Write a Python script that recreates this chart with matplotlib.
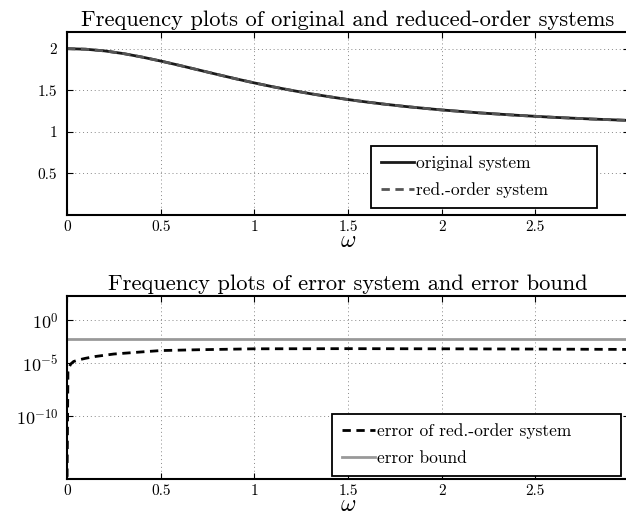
import numpy as np
import matplotlib
matplotlib.use("Agg")
import matplotlib.pyplot as plt

plt.rcParams['font.family'] = 'serif'
plt.rcParams['font.serif'] = ['cmr10', 'DejaVu Serif']
plt.rcParams['mathtext.fontset'] = 'cm'
plt.rcParams['axes.formatter.use_mathtext'] = True

# ---- data ----
omega_top = [0.0, 0.1, 0.2, 0.3, 0.4, 0.5, 0.6, 0.7, 0.8, 0.9, 1.0, 1.1, 1.2, 1.3,
             1.4, 1.5, 1.6, 1.7, 1.8, 1.9, 2.0, 2.2, 2.4, 2.6, 2.8, 3.0]
orig_mag = [2.000, 1.993, 1.973, 1.941, 1.899, 1.851, 1.799, 1.745, 1.691, 1.638,
            1.588, 1.541, 1.498, 1.458, 1.422, 1.388, 1.358, 1.331, 1.306, 1.284,
            1.263, 1.228, 1.199, 1.174, 1.154, 1.137]
red_mag = [2.000, 1.993, 1.973, 1.941, 1.899, 1.851, 1.799, 1.745, 1.691, 1.638,
           1.588, 1.541, 1.498, 1.458, 1.422, 1.388, 1.358, 1.331, 1.306, 1.284,
           1.263, 1.228, 1.199, 1.174, 1.154, 1.137]

omega_err = [0.0, 0.005, 0.01, 0.02, 0.035, 0.06, 0.1, 0.15, 0.25, 0.4, 0.5, 0.7,
             1.0, 1.5, 2.0, 2.5, 3.0]
err_mag = [1e-17, 1.6e-6, 3.5e-6, 7.9e-6, 1.45e-5, 2.2e-5, 3.5e-5, 5.6e-5, 1.1e-4,
           1.95e-4, 2.8e-4, 3.5e-4, 4.5e-4, 4.7e-4, 4.5e-4, 4.2e-4, 3.8e-4]
err_bound = 5.9e-3

xticks = [0, 0.5, 1, 1.5, 2, 2.5, 3]
xticklabels = ['0', '0.5', '1', '1.5', '2', '2.5', '3']
yticks_top = [0.5, 1, 1.5, 2]
yticklabels_top = ['0.5', '1', '1.5', '2']
yticks_bot = [1e0, 1e-5, 1e-10]
yticklabels_bot = ['$10^{0}$', '$10^{-5}$', '$10^{-10}$']

# ---- figure ----
fig = plt.figure(figsize=(6.26, 5.15), dpi=100)
W, H = 626.0, 515.0
axL = 67 / W
axW = (629 - 67) / W
ax1 = fig.add_axes([axL, 1 - 215 / H, axW, 183 / H])
ax2 = fig.add_axes([axL, 1 - 479 / H, axW, 183 / H])

def style(ax):
    for s in ax.spines.values():
        s.set_linewidth(1.5)
        s.set_color('black')
    ax.tick_params(direction='in', top=True, right=True, length=4, width=0.8,
                   labelsize=11)
    ax.tick_params(axis='x', pad=4)
    ax.tick_params(axis='y', pad=7)
    ax.grid(True, linestyle=(0, (1, 3)), color='#888888', linewidth=0.7)
    ax.set_axisbelow(True)
    ax.set_xlim(0, 3)
    ax.set_xticks(xticks)
    ax.set_xticklabels(xticklabels)
    ax.set_xlabel(r'$\omega$', fontsize=17, labelpad=-3)

# top
ax1.plot(omega_top, orig_mag, color='#1a1a1a', lw=2.0, label='original system')
ax1.plot(omega_top, red_mag, color='#555555', lw=2.0, ls=(0, (3, 2)),
         label='red.-order system')
ax1.set_ylim(0, 2.2)
ax1.set_yticks(yticks_top)
ax1.set_yticklabels(yticklabels_top)
style(ax1)
ax1.set_title('Frequency plots of original and reduced-order systems',
              fontsize=16.2, pad=4)
leg_kw = dict(fontsize=12.5, frameon=True, fancybox=False, edgecolor='black',
              framealpha=1, handlelength=1.9, handletextpad=0.15, labelspacing=0.65,
              borderpad=0.55, borderaxespad=0, mode='expand', loc='upper left')
leg1 = ax1.legend(bbox_to_anchor=(0.541, 0.377, 0.402, 0), **leg_kw)
leg1.get_frame().set_linewidth(1.3)

# bottom: piecewise log scale
def fwd(v):
    t = np.log10(np.clip(np.asarray(v, dtype=float), 1e-300, None))
    return np.where(t >= -5, t, -5 + (t + 5) * 1.25)

def inv(y):
    y = np.asarray(y, dtype=float)
    return np.where(y >= -5, 10.0 ** y, 10.0 ** (-5 + (y + 5) / 1.25))

ax2.set_yscale('function', functions=(fwd, inv))
ax2.plot(omega_err, err_mag, color='black', lw=2.0, ls=(0, (3, 2)),
         label='error of red.-order system')
ax2.plot([omega_err[0], omega_err[-1]], [err_bound, err_bound], color='#999999',
         lw=2.0, label='error bound')
ax2.set_ylim(10 ** -15.9, 10 ** 2.85)
ax2.set_yticks(yticks_bot)
ax2.set_yticklabels(yticklabels_bot)
ax2.yaxis.set_minor_locator(matplotlib.ticker.NullLocator())
style(ax2)
ax2.tick_params(axis='y', labelsize=13, pad=6)
ax2.set_title('Frequency plots of error system and error bound', fontsize=16.2, pad=4)
leg2 = ax2.legend(bbox_to_anchor=(0.4715, 0.355, 0.5145, 0), **leg_kw)
leg2.get_frame().set_linewidth(1.3)

fig.savefig('out.png', dpi=100)
